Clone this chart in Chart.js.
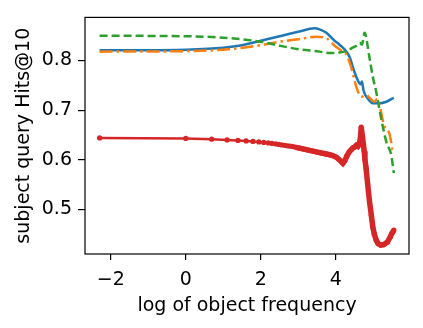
<!DOCTYPE html>
<html>
<head>
<meta charset="utf-8">
<script src="https://cdn.jsdelivr.net/npm/chart.js@4/dist/chart.umd.min.js"></script>
<style>
  html, body { margin: 0; padding: 0; background: #fff; }
  #wrap { width: 423px; height: 328px; }
</style>
</head>
<body>
<div id="wrap"><canvas id="myChart"></canvas></div>
<script>
// tick labels
var xTicks = [-2, 0, 2, 4];
var yTicks = [0.5, 0.6, 0.7, 0.8];

// red series (with markers)
var redX = [-2.30, 0.00, 0.69, 1.10, 1.39, 1.61, 1.79, 1.95, 2.08, 2.20, 2.30, 2.40, 2.48, 2.56, 2.64, 2.71,
  2.77, 2.83, 2.89, 2.94, 3.00, 3.06, 3.12, 3.18, 3.24, 3.30, 3.36, 3.42, 3.48, 3.54, 3.60, 3.66, 3.72,
  3.78, 3.84, 3.90, 3.96, 4.02, 4.08, 4.14, 4.19, 4.24, 4.30, 4.36, 4.41, 4.46, 4.51, 4.55, 4.59, 4.63,
  4.66, 4.68, 4.71, 4.74, 4.76, 4.78, 4.81, 4.85, 4.90, 4.95, 4.99, 5.03, 5.08, 5.13, 5.20, 5.28, 5.38,
  5.46, 5.50, 5.55];
var redY = [0.644, 0.643, 0.6415, 0.640, 0.639, 0.638, 0.637, 0.636, 0.635, 0.634, 0.633, 0.632, 0.631, 0.630, 0.629, 0.628,
  0.6275, 0.627, 0.626, 0.625, 0.624, 0.623, 0.622, 0.621, 0.620, 0.619, 0.618, 0.617, 0.616, 0.615, 0.614, 0.613, 0.612,
  0.611, 0.610, 0.609, 0.607, 0.605, 0.601, 0.597, 0.593, 0.598, 0.608, 0.616, 0.620, 0.624, 0.626, 0.629, 0.627, 0.632,
  0.645, 0.666, 0.648, 0.630, 0.617, 0.600, 0.583, 0.552, 0.517, 0.488, 0.464, 0.450, 0.438, 0.431, 0.428, 0.429, 0.434,
  0.445, 0.452, 0.458];

// blue series (solid)
var blueX = [-2.30, -1.00, 0.00, 1.00, 1.50, 2.00, 2.50, 3.00, 3.44, 3.57, 3.75, 3.97, 4.10, 4.23, 4.37, 4.50,
  4.59, 4.66, 4.70, 4.74, 4.85, 4.99, 5.17, 5.35, 5.55];
var blueY = [0.821, 0.821, 0.822, 0.826, 0.831, 0.840, 0.849, 0.858, 0.865, 0.863, 0.856, 0.840, 0.832, 0.823, 0.807, 0.777,
  0.760, 0.752, 0.758, 0.740, 0.724, 0.714, 0.714, 0.717, 0.725];

// orange series (dash-dot)
var orangeX = [-2.30, 0.00, 1.00, 2.00, 2.50, 3.00, 3.49, 3.75, 3.97, 4.15, 4.28, 4.41, 4.55, 4.68, 4.81, 4.92,
  5.03, 5.10, 5.17, 5.29, 5.43, 5.48, 5.52, 5.55];
var orangeY = [0.818, 0.819, 0.822, 0.831, 0.838, 0.843, 0.848, 0.845, 0.830, 0.820, 0.813, 0.787, 0.747, 0.727, 0.730, 0.724,
  0.717, 0.722, 0.709, 0.669, 0.653, 0.636, 0.620, 0.625];

// green series (dashed)
var greenX = [-2.30, 0.00, 1.00, 2.00, 2.50, 3.00, 3.57, 3.84, 4.05, 4.32, 4.45, 4.55, 4.64, 4.70, 4.77, 4.90,
  4.99, 5.08, 5.20, 5.35, 5.48, 5.55];
var greenY = [0.850, 0.849, 0.846, 0.838, 0.830, 0.823, 0.818, 0.815, 0.816, 0.820, 0.826, 0.830, 0.836, 0.832, 0.856, 0.806,
  0.767, 0.737, 0.688, 0.636, 0.610, 0.573];

function pts(xs, ys) {
  return xs.map(function (x, i) { return { x: x, y: ys[i] }; });
}

var font = { family: "'DejaVu Sans'", size: 19 };

var frame = {
  id: 'frame',
  afterDatasetsDraw: function (chart) {
    var a = chart.chartArea, c = chart.ctx;
    c.save();
    c.strokeStyle = '#000';
    c.lineWidth = 1.2;
    c.strokeRect(a.left, a.top, a.right - a.left, a.bottom - a.top);
    c.restore();
  }
};

var ctx = document.getElementById("myChart");
var myChart = new Chart(ctx, {
  type: 'scatter',
  data: {
    datasets: [{
      label: "red",
      data: pts(redX, redY),
      showLine: true,
      borderColor: "#d62728",
      backgroundColor: "#d62728",
      borderWidth: 2.5,
      // markers pile up into a thick band where the points get dense
      segment: { borderWidth: function (c) { return c.p0.parsed.x >= 2.9 ? 5.5 : 2.5; } },
      pointRadius: 2.6,
      pointBorderWidth: 0,
      tension: 0
    }, {
      label: "green",
      data: pts(greenX, greenY),
      showLine: true,
      borderColor: "#2ca02c",
      borderWidth: 2.5,
      borderDash: [8, 4],
      pointRadius: 0,
      cubicInterpolationMode: 'monotone'
    }, {
      label: "orange",
      data: pts(orangeX, orangeY),
      showLine: true,
      borderColor: "#ff7f0e",
      borderWidth: 2.5,
      borderDash: [13, 4, 2.5, 4],
      pointRadius: 0,
      cubicInterpolationMode: 'monotone'
    }, {
      label: "blue",
      data: pts(blueX, blueY),
      showLine: true,
      borderColor: "#1f77b4",
      borderWidth: 2.5,
      pointRadius: 0,
      cubicInterpolationMode: 'monotone'
    }]
  },
  options: {
    responsive: true,
    maintainAspectRatio: false,
    animation: false,
    layout: { padding: { top: 13, right: 14, left: 0, bottom: 0 } },
    plugins: { legend: { display: false }, tooltip: { enabled: false } },
    scales: {
      x: {
        type: 'linear',
        min: -2.69,
        max: 5.955,
        border: { display: false },
        grid: { drawOnChartArea: false, drawTicks: true, tickLength: 6, color: '#000', lineWidth: 1.2 },
        ticks: {
          color: '#000', font: font, padding: 9, maxRotation: 0,
          callback: function (v) { return String(v).replace('-', '\u2212'); }
        },
        afterBuildTicks: function (s) { s.ticks = xTicks.map(function (v) { return { value: v }; }); },
        afterFit: function (s) { s.height = 74; },
        title: { display: true, text: 'log of object frequency', color: '#000', font: font, padding: { top: 0, bottom: 11 } }
      },
      y: {
        type: 'linear',
        min: 0.41,
        max: 0.887,
        border: { display: false },
        grid: { drawOnChartArea: false, drawTicks: true, tickLength: 7, color: '#000', lineWidth: 1.2 },
        ticks: {
          color: '#000', font: font, padding: 6,
          callback: function (v) { return v.toFixed(1); }
        },
        afterBuildTicks: function (s) { s.ticks = yTicks.map(function (v) { return { value: v }; }); },
        afterFit: function (s) { s.width = 85; },
        title: { display: true, text: 'subject query Hits@10', color: '#000', font: font, padding: { top: 13, bottom: 0 } }
      }
    }
  },
  plugins: [frame]
});
</script>
</body>
</html>
